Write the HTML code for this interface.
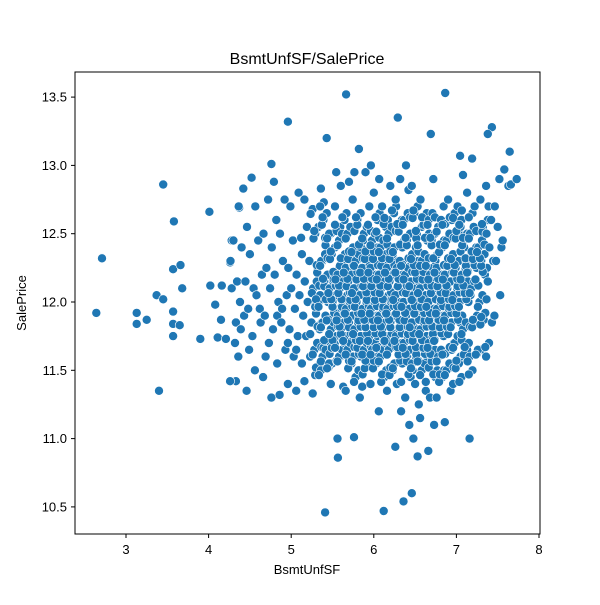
<!DOCTYPE html>
<html><head><meta charset="utf-8"><style>
html,body{margin:0;padding:0;background:#fff}
svg text{font-family:"Liberation Sans",sans-serif;fill:#000}
</style></head><body>
<svg id="chart" width="600" height="600" viewBox="0 0 600 600" xmlns="http://www.w3.org/2000/svg">
<rect x="0" y="0" width="600" height="600" fill="#fff"/>
<text x="307" y="64" font-size="16" text-anchor="middle">BsmtUnfSF/SalePrice</text>
<g id="marks"></g>
<rect x="75" y="72" width="465" height="462" fill="none" stroke="#000" stroke-width="1"/>
<g id="xticks"></g>
<g id="yticks"></g>
<text x="307" y="574" font-size="13" text-anchor="middle">BsmtUnfSF</text>
<text x="0" y="0" font-size="13" text-anchor="middle" transform="translate(26,303) rotate(-90)">SalePrice</text>
</svg>
<script>
const xTicks = [3,4,5,6,7,8];
const yTicks = [10.5,11.0,11.5,12.0,12.5,13.0,13.5];
const outX = [2.64,2.71,3.13,3.13,3.25,3.37,3.40,3.45,3.45,3.57,3.58,3.57,3.57,3.57,3.65,3.66,3.68,3.9,4.01,4.02,4.08,4.11,4.15,4.16,4.21,4.26,4.28,4.33,5.41,4.96,4.37];
const outY = [11.92,12.32,11.92,11.84,11.87,12.05,11.35,12.86,12.02,12.24,12.59,11.93,11.84,11.75,11.83,12.27,12.10,11.73,12.66,12.12,11.98,11.74,11.87,12.12,11.73,12.29,12.45,11.42,10.46,13.32,12.69];
const binX = [4.3,4.4,4.5,4.6,4.7,4.8,4.9,5.0,5.1,5.2,5.3,5.4,5.5,5.6,5.7,5.8,5.9,6.0,6.1,6.2,6.3,6.4,6.5,6.6,6.7,6.8,6.9,7.0,7.1,7.2,7.3,7.4,7.5,7.6,7.7];
const binY = [
[11.42,11.85,12.1,12.15,12.45,12.3,11.7],
[11.6,11.9,12.0,12.15,12.4,12.7,12.83,11.8],
[11.35,11.75,11.95,12.1,12.35,12.55,12.91,11.65],
[11.5,11.85,12.05,12.2,12.45,12.7,11.95],
[11.45,11.7,11.9,12.1,12.25,12.5,12.75,11.6],
[11.3,11.55,11.8,12.0,12.2,12.4,12.6,12.88,13.01,11.9],
[11.32,11.65,11.85,12.05,12.3,12.5,12.75,11.95],
[11.4,11.6,11.8,11.95,12.1,12.25,12.45,12.7,11.7],
[11.35,11.55,11.75,11.9,12.05,12.2,12.47,12.8,11.65,12.35],
[11.42,11.6,11.75,11.85,12.0,12.15,12.3,12.55,12.75],
[11.33,11.5,11.65,11.8,11.95,12.1,12.25,12.5,12.68,12.0],
[11.5,11.7,11.85,12.0,12.15,12.3,12.45,12.6,12.83,13.2,11.6],
[11.55,11.7,11.8,11.9,12.0,12.1,12.2,12.35,12.5,12.7,11.4,12.95],
[11.0,11.38,11.6,11.7,11.8,11.9,12.0,12.1,12.2,12.3,12.45,12.6,12.85,10.86],
[11.35,11.55,11.65,11.75,11.85,11.95,12.05,12.15,12.25,12.35,12.5,12.75,12.88,13.52],
[11.01,11.3,11.45,11.6,11.7,11.8,11.9,12.0,12.1,12.2,12.3,12.4,12.6,12.95,13.12],
[11.38,11.55,11.65,11.75,11.85,11.95,12.05,12.15,12.25,12.35,12.5,12.7,12.95],
[11.4,11.55,11.65,11.75,11.85,11.95,12.05,12.15,12.25,12.35,12.45,12.6,12.8,13.0],
[11.2,11.45,11.6,11.7,11.8,11.9,12.0,12.1,12.2,12.3,12.4,12.55,12.7,12.9,10.47],
[11.35,11.5,11.65,11.75,11.85,11.95,12.05,12.15,12.25,12.35,12.5,12.65,12.85],
[10.94,11.2,11.4,11.55,11.65,11.75,11.85,11.95,12.05,12.15,12.25,12.4,12.55,12.75,12.9,13.35],
[10.54,11.1,11.3,11.45,11.6,11.7,11.8,11.9,12.0,12.1,12.2,12.3,12.45,12.6,12.82,13.0],
[10.6,10.87,11.0,11.25,11.4,11.55,11.65,11.75,11.85,11.95,12.05,12.15,12.25,12.35,12.5,12.65,12.85],
[11.15,11.35,11.5,11.6,11.7,11.8,11.9,12.0,12.1,12.2,12.3,12.45,12.6,12.75],
[10.91,11.1,11.3,11.45,11.6,11.7,11.8,11.9,12.0,12.1,12.2,12.3,12.45,12.6,12.9,13.23],
[11.3,11.45,11.6,11.75,11.85,11.95,12.05,12.15,12.25,12.4,12.55,12.7],
[11.12,11.35,11.5,11.65,11.8,11.9,12.0,12.1,12.2,12.3,12.45,12.6,12.75,13.53],
[11.4,11.55,11.7,11.85,11.95,12.05,12.15,12.25,12.35,12.5,12.65,13.07],
[11.45,11.65,11.8,12.0,12.1,12.2,12.3,12.45,12.6,12.8,12.93],
[11.6,11.85,12.1,12.25,12.35,12.5,12.7,13.05,11.0],
[11.65,11.87,12.0,12.2,12.3,12.4,12.55,12.75],
[11.6,11.85,12.15,12.3,12.4,12.5,12.6,12.7,12.85,13.28,13.23],
[11.9,12.05,12.3,12.4,12.55,12.7,12.9],
[12.45,12.85,12.97,13.1],
[12.86,12.9]
];
const binOffsets = [-0.04,0.03,-0.02,0.045,0.0,-0.035,0.02,-0.01];
const NS = "http://www.w3.org/2000/svg";
function xs(v){return 126 + (v-3)*82.6;}
function ys(v){return 302 - (v-12)*136.6;}
const marks = document.getElementById('marks');
function dot(x,y){
  const c = document.createElementNS(NS,'circle');
  
  
  c.setAttribute('cx',xs(x).toFixed(1));
  c.setAttribute('cy',ys(y).toFixed(1));
  c.setAttribute('r','4.5');
  c.setAttribute('fill','#1f77b4');
  c.setAttribute('stroke','#fff');
  c.setAttribute('stroke-width','0.6');
  marks.appendChild(c);
}
for(let i=0;i<outX.length;i++) dot(outX[i],outY[i]);
for(let i=0;i<binX.length;i++){
  const arr = binY[i];
  for(let j=0;j<arr.length;j++){
    dot(binX[i]+binOffsets[j%binOffsets.length], arr[j]);
    if(binX[i]>=5.3 && binX[i]<=7.3 && arr[j]>11.4 && arr[j]<12.7){
      dot(binX[i]+binOffsets[(j+3)%binOffsets.length]+0.05, arr[j]+0.05);
      dot(binX[i]+binOffsets[(j+5)%binOffsets.length]-0.03, arr[j]-0.035);
      dot(binX[i]+binOffsets[(j+1)%binOffsets.length]+0.02, arr[j]+0.02);
    }
  }
}
const xg = document.getElementById('xticks');
xTicks.forEach(t=>{
  const l=document.createElementNS(NS,'line');
  
  
  l.setAttribute('x1',xs(t));l.setAttribute('x2',xs(t));
  l.setAttribute('y1',534);l.setAttribute('y2',538);
  l.setAttribute('stroke','#000');
  xg.appendChild(l);
  const tx=document.createElementNS(NS,'text');
  
  
  tx.setAttribute('x',xs(t));tx.setAttribute('y',554);
  tx.setAttribute('font-size','13');tx.setAttribute('text-anchor','middle');
  tx.textContent=t;
  xg.appendChild(tx);
});
const yg = document.getElementById('yticks');
yTicks.forEach(t=>{
  const l=document.createElementNS(NS,'line');
  
  
  l.setAttribute('x1',71);l.setAttribute('x2',75);
  l.setAttribute('y1',ys(t));l.setAttribute('y2',ys(t));
  l.setAttribute('stroke','#000');
  yg.appendChild(l);
  const tx=document.createElementNS(NS,'text');
  
  
  tx.setAttribute('x',67);tx.setAttribute('y',ys(t)+4.5);
  tx.setAttribute('font-size','13');tx.setAttribute('text-anchor','end');
  tx.textContent=t.toFixed(1);
  yg.appendChild(tx);
});
</script>
</body></html>
